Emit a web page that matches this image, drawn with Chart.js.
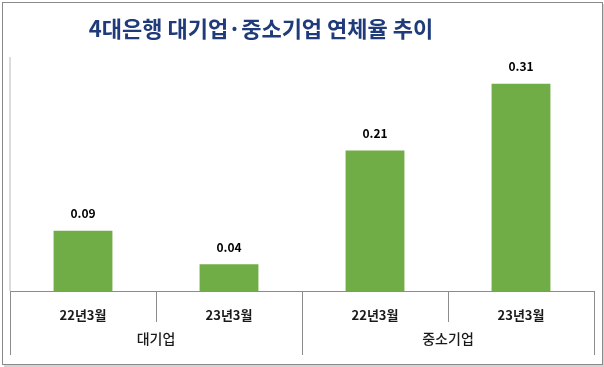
<!DOCTYPE html>
<html><head><meta charset="utf-8">
<script src="https://cdn.jsdelivr.net/npm/chart.js@4/dist/chart.umd.min.js"></script>
<style>html,body{margin:0;padding:0;background:#fff;}#wrap{width:604px;height:367px;position:relative;}</style>
</head><body><div id="wrap"><canvas id="c" width="604" height="367"></canvas></div>
<script>
const titleText = '4대은행 대기업·중소기업 연체율 추이';
const periods = ['22년3월', '23년3월', '22년3월', '23년3월'];
const groups = ['대기업', '중소기업'];
const groupSizes = [2, 2];
const values = [0.09, 0.04, 0.21, 0.31];
const valueLabels = ['0.09', '0.04', '0.21', '0.31'];
const FONT = '"Noto Sans CJK KR", "Noto Sans", sans-serif';

const deco = {
  id: 'deco',
  beforeDraw(chart) {
    const ctx = chart.ctx;
    ctx.save();
    ctx.fillStyle = '#fff';
    ctx.fillRect(0, 0, chart.width, chart.height);
    ctx.fillStyle = '#d4d4d4';
    ctx.fillRect(4, 365, 599, 2);
    ctx.fillRect(603, 4, 1, 363);
    ctx.strokeStyle = '#8a8a8a';
    ctx.lineWidth = 1;
    ctx.strokeRect(2.5, 2.5, 600, 362);
    ctx.restore();
  },
  afterDatasetsDraw(chart) {
    const ctx = chart.ctx;
    const xs = chart.scales.x, ys = chart.scales.y;
    const a = chart.chartArea;
    ctx.save();
    ctx.font = 'bold 22px ' + FONT;
    ctx.fillStyle = '#1F3B7A';
    ctx.textAlign = 'center';
    ctx.textBaseline = 'middle';
    ctx.fillText(titleText, 261, 28.5);
    ctx.strokeStyle = '#d0d0d0';
    ctx.lineWidth = 1.5;
    ctx.beginPath(); ctx.moveTo(a.left, a.top); ctx.lineTo(a.left, a.bottom); ctx.stroke();
    ctx.strokeStyle = '#8c8c8c';
    ctx.lineWidth = 1;
    ctx.beginPath(); ctx.moveTo(a.left, a.bottom + 0.5); ctx.lineTo(a.right, a.bottom + 0.5); ctx.stroke();
    const n = periods.length;
    const half = (xs.getPixelForValue(1) - xs.getPixelForValue(0)) / 2;
    const bound = i => (i < n ? xs.getPixelForValue(i) - half : xs.getPixelForValue(n - 1) + half);
    let groupStarts = [0];
    groupSizes.forEach((s, i) => groupStarts.push(groupStarts[i] + s));
    for (let i = 0; i <= n; i++) {
      const x = Math.round(bound(i)) + 0.5;
      const isGroup = groupStarts.includes(i);
      ctx.beginPath();
      ctx.moveTo(x, a.bottom);
      ctx.lineTo(x, isGroup ? a.bottom + 64 : a.bottom + 31);
      ctx.stroke();
    }
    ctx.fillStyle = '#1a1a1a';
    ctx.font = 'bold 13px ' + FONT;
    periods.forEach((p, i) => ctx.fillText(p, xs.getPixelForValue(i), a.bottom + 24));
    ctx.font = '500 14px ' + FONT;
    groups.forEach((g, gi) => {
      const cx = (bound(groupStarts[gi]) + bound(groupStarts[gi + 1])) / 2;
      ctx.fillText(g, cx, a.bottom + 48);
    });
    ctx.font = 'bold 12px ' + FONT;
    ctx.fillStyle = '#000';
    values.forEach((v, i) => {
      ctx.fillText(valueLabels[i], xs.getPixelForValue(i), ys.getPixelForValue(v) - 17);
    });
    ctx.restore();
  }
};

new Chart(document.getElementById('c'), {
  type: 'bar',
  data: {
    labels: periods,
    datasets: [{ data: values, backgroundColor: '#70AD47', borderWidth: 0,
      categoryPercentage: 1, barPercentage: 0.403 }]
  },
  options: {
    responsive: false,
    animation: false,
    layout: { padding: { left: 10, right: 10, top: 57, bottom: 76 } },
    plugins: { legend: { display: false }, tooltip: { enabled: false } },
    scales: {
      x: { display: false },
      y: { display: false, min: 0, max: 0.35 }
    }
  },
  plugins: [deco]
});
</script></body></html>
